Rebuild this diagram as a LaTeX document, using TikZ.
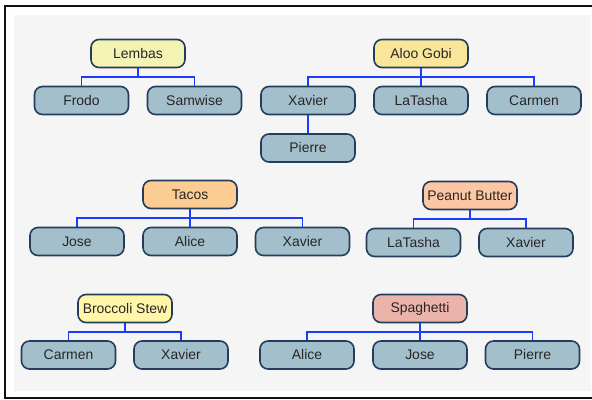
\documentclass[tikz,border=0pt]{standalone}
\usepackage{fontspec}
\setmainfont{Liberation Sans}
\usetikzlibrary{calc}
\definecolor{frameblack}{HTML}{111111}
\definecolor{panel}{HTML}{F5F5F5}
\definecolor{edge}{HTML}{243D5C}
\definecolor{leaf}{HTML}{A4BFCC}
\definecolor{bus}{HTML}{1A3CFF}
\definecolor{cLembas}{HTML}{F3F3B3}
\definecolor{cAloo}{HTML}{F9E69A}
\definecolor{cTacos}{HTML}{FCCC92}
\definecolor{cPeanut}{HTML}{FDC7A4}
\definecolor{cBroccoli}{HTML}{FFF6A8}
\definecolor{cSpag}{HTML}{ECB3AA}
\tikzset{
  box/.style={draw=edge, line width=1.6bp, rounded corners=8bp,
    minimum width=94bp, minimum height=28bp, inner sep=0pt,
    font=\fontsize{14}{16}\selectfont, text=black!85},
  leafbox/.style={box, fill=leaf},
  link/.style={draw=bus, line width=1.8bp},
}
\begin{document}
\begin{tikzpicture}[x=1bp,y=-1bp]
\useasboundingbox (0,0) rectangle (592,399);
\fill[white] (0,0) rectangle (592,399);
\fill[panel] (14,15) rectangle (591,391);
\draw[frameblack, line width=2bp] (593,6) -- (5,6) -- (5,398) -- (593,398);

% Lembas
\node[box, fill=cLembas] (lembas) at (138,53.5) {Lembas};
\node[leafbox] (frodo) at (81.5,100.5) {Frodo};
\node[leafbox] (samwise) at (194.5,100.5) {Samwise};

% Aloo Gobi
\node[box, fill=cAloo] (aloo) at (421,53.5) {Aloo Gobi};
\node[leafbox] (xavierA) at (308,100.5) {Xavier};
\node[leafbox] (latashaA) at (421,100.5) {LaTasha};
\node[leafbox] (carmenA) at (534,100.5) {Carmen};
\node[leafbox] (pierreA) at (308,148) {Pierre};

% Tacos
\node[box, fill=cTacos] (tacos) at (190,194.5) {Tacos};
\node[leafbox] (joseT) at (77,241.5) {Jose};
\node[leafbox] (aliceT) at (190,241.5) {Alice};
\node[leafbox] (xavierT) at (302.5,241.5) {Xavier};

% Peanut Butter
\node[box, fill=cPeanut] (peanut) at (470,195.5) {Peanut Butter};
\node[leafbox] (latashaP) at (413.5,242.5) {LaTasha};
\node[leafbox] (xavierP) at (526,242.5) {Xavier};

% Broccoli Stew
\node[box, fill=cBroccoli] (broccoli) at (125,308.5) {Broccoli Stew};
\node[leafbox] (carmenB) at (68.5,355) {Carmen};
\node[leafbox] (xavierB) at (181,355) {Xavier};

% Spaghetti
\node[box, fill=cSpag] (spag) at (420,308.5) {Spaghetti};
\node[leafbox] (aliceS) at (307,355) {Alice};
\node[leafbox] (joseS) at (420,355) {Jose};
\node[leafbox] (pierreS) at (532.5,355) {Pierre};

% parent-to-child connectors through a bus halfway between the rows
\foreach \p/\c in {lembas/frodo, lembas/samwise,
    aloo/xavierA, aloo/latashaA, aloo/carmenA,
    tacos/joseT, tacos/aliceT, tacos/xavierT,
    peanut/latashaP, peanut/xavierP,
    broccoli/carmenB, broccoli/xavierB,
    spag/aliceS, spag/joseS, spag/pierreS}
  \draw[link] (\p.south) |- ($(\p.south)!.5!(\c.north)$) -| (\c.north);
\draw[link] (xavierA.south) -- (pierreA.north);
\end{tikzpicture}
\end{document}
